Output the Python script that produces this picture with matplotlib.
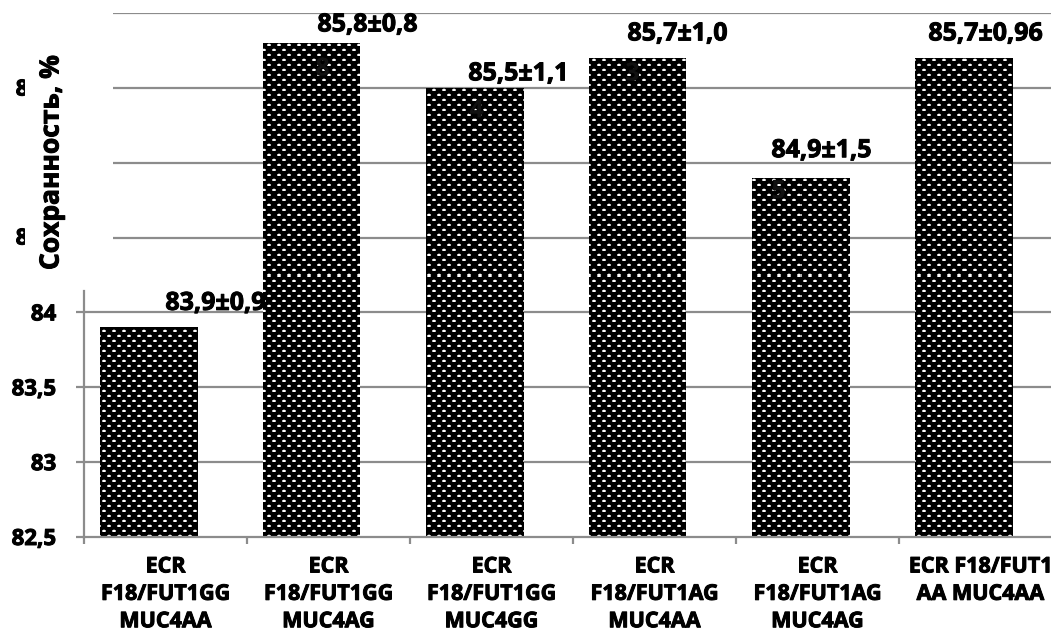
import numpy as np
import matplotlib
matplotlib.use("Agg")
import matplotlib.pyplot as plt
import matplotlib.patheffects as pe
from matplotlib.transforms import Bbox

# ---------------- data ----------------
categories = ["ECR\nF18/FUT1GG\nMUC4AA", "ECR\nF18/FUT1GG\nMUC4AG", "ECR\nF18/FUT1GG\nMUC4GG",
              "ECR\nF18/FUT1AG\nMUC4AA", "ECR\nF18/FUT1AG\nMUC4AG", "ECR F18/FUT1\nAA MUC4AA"]
values = [83.9, 85.8, 85.5, 85.7, 84.9, 85.7]
value_labels = ["83,9±0,9", "85,8±0,8", "85,5±1,1", "85,7±1,0", "84,9±1,5", "85,7±0,96"]
stray_digits = ["", "8", "4", "3", "5", ""]
y_ticks = [82.5, 83.0, 83.5, 84.0]
y_tick_labels = ["82,5", "83", "83,5", "84"]
grid_levels = [83.0, 83.5, 84.0, 84.5, 85.0, 85.5, 86.0]
y_label = "Сохранность, %"

# ---------------- style / layout ----------------
W, H = 1051, 634
FONT = ["Open Sans", "DejaVu Sans"]
plt.rcParams["font.family"] = FONT
plt.rcParams["font.weight"] = "bold"
GRAY = "#8c8c8c"
HEAVY = [pe.withStroke(linewidth=0.7, foreground="black")]

fig = plt.figure(figsize=(W / 100, H / 100), dpi=100)
ax_left, ax_right, ax_bottom, ax_top = 84, 1062, 537, 13
ax = fig.add_axes([ax_left / W, 1 - ax_bottom / H,
                   (ax_right - ax_left) / W, (ax_bottom - ax_top) / H])
ax.set_xlim(0, len(categories))
ax.set_ylim(82.5, 86)
cat_px = (ax_right - ax_left) / len(categories)

# gridlines (upper ones start a bit right of the axis, as in the reference)
for g in grid_levels:
    xmin = 0 if g <= 84.0 else (113 - ax_left) / cat_px
    ax.hlines(g, xmin, len(categories), color=GRAY, lw=1.6, zorder=1)

# bars
bar_shift = -17 / cat_px
bar_w = 97 / cat_px
pos = np.arange(len(categories)) + 0.5 + bar_shift
bars = ax.bar(pos, values, width=bar_w, bottom=0, color="black", linewidth=0, zorder=2)

# texture (light ovals on black) clipped to each bar
ph = int(round(ax_bottom - ax_top))
pw = int(round(ax_right - ax_left))
rr, cc = np.mgrid[0:ph, 0:pw]
k = rr // 5
r5 = rr % 5
c10 = (cc + (k % 2) * 5) % 10
tex = np.zeros((ph, pw))
mid = (r5 == 2) | (r5 == 3)
tex[(r5 == 1) & ((c10 == 4) | (c10 == 5))] = 0.25
tex[mid & ((c10 == 3) | (c10 == 6))] = 0.7
tex[mid & ((c10 == 4) | (c10 == 5))] = 1.0
for b in bars:
    im = ax.imshow(tex, extent=(0, len(categories), 82.5, 86), aspect="auto",
                   cmap="gray", vmin=0, vmax=1, interpolation="nearest", zorder=2.5)
    im.set_clip_path(b)

# value labels (offsets in pixels, converted to points)
label_dx = [67, 56, 44, 40, 21, 22]
label_dy = [24, 18, 14, 24, 27, 24]
for p, v, t, dx, dy in zip(pos, values, value_labels, label_dx, label_dy):
    ax.annotate(t, (p, v), xytext=(dx * 0.72, dy * 0.72), textcoords="offset points",
                ha="center", va="center", fontsize=18, fontweight="bold", zorder=4,
                annotation_clip=False, path_effects=HEAVY)

# stray digits inside bars
stray_dx = [0, 11, 2, -5, -22, 0]
stray_dy = [0, -26, -23, -16, -14, 0]
for p, v, s, dx, dy in zip(pos, values, stray_digits, stray_dx, stray_dy):
    if s:
        ax.annotate(s, (p, v), xytext=(dx * 0.72, dy * 0.72), textcoords="offset points",
                    ha="center", va="center", fontsize=18, fontweight="bold",
                    color="#111111", zorder=3, path_effects=HEAVY)

# axes / ticks
for s in ["top", "right"]:
    ax.spines[s].set_visible(False)
ax.spines["left"].set_color(GRAY)
ax.spines["left"].set_linewidth(1.6)
ax.spines["left"].set_bounds(82.5, 84.14)
ax.spines["bottom"].set_color(GRAY)
ax.spines["bottom"].set_linewidth(1.6)
ax.set_yticks(y_ticks)
ax.set_yticklabels(y_tick_labels, fontsize=16, fontweight="bold")
ax.tick_params(axis="y", direction="out", length=6, width=1.6, color=GRAY, pad=14)
ax.set_xticks(np.arange(len(categories) + 1))
ax.set_xticklabels([])
ax.tick_params(axis="x", which="major", direction="out", length=5, width=1.6, color=GRAY)
ax.set_xticks(np.arange(len(categories)) + 0.5, minor=True)
ax.set_xticklabels(categories, minor=True, fontsize=15.5, fontweight="bold", linespacing=1.4)
ax.tick_params(axis="x", which="minor", length=0, pad=14)
for lab in ax.get_yticklabels() + ax.get_xticklabels(minor=True):
    lab.set_path_effects(HEAVY)

# y label
fig.text(51 / W, 1 - 163 / H, y_label, rotation=90, ha="center", va="center",
         fontsize=19, fontweight="bold", path_effects=HEAVY)

# clipped stray "8" fragments at far left
for yc in [90, 239]:
    t = fig.text(22 / W, 1 - yc / H, "8", ha="center", va="center", fontsize=16,
                 fontweight="bold", path_effects=HEAVY)
    t.set_clip_box(Bbox([[0, 0], [25, H]]))
    t.set_clip_on(True)

fig.savefig("out.png", dpi=100)
